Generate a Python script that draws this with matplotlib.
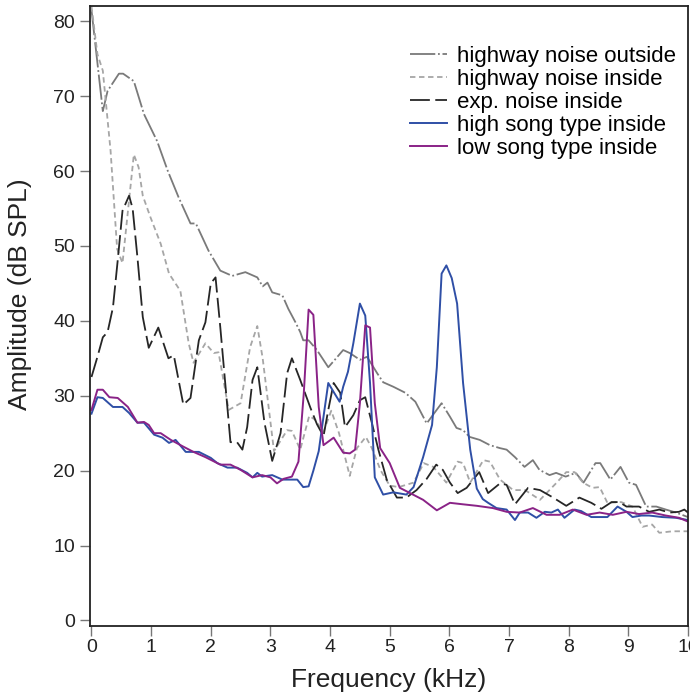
import matplotlib
matplotlib.use('Agg')
import matplotlib.pyplot as plt

# Values (frequency in kHz, level in dB SPL)
out_f = [0.0, 0.19, 0.27, 0.46, 0.53, 0.71, 0.88, 1.1, 1.28, 1.46, 1.66, 1.75, 1.96, 2.16, 2.36,
         2.58, 2.78, 2.87, 2.95, 3.03, 3.2, 3.3, 3.42, 3.5, 3.55, 3.64, 3.78, 3.97, 4.08, 4.22,
         4.33, 4.5, 4.62, 4.79, 4.89, 5.06, 5.26, 5.43, 5.62, 5.87, 6.01, 6.12, 6.23, 6.34, 6.51,
         6.68, 6.85, 6.96, 7.1, 7.26, 7.4, 7.51, 7.68, 7.79, 7.95, 8.12, 8.25, 8.45, 8.53, 8.7,
         8.87, 9.01, 9.13, 9.3, 9.47, 9.63, 9.8, 10.0]
out_db = [81.5, 68.0, 70.7, 73.0, 73.0, 72.0, 67.6, 64.0, 60.0, 56.5, 53.0, 53.0, 49.4, 46.7, 46.0,
          46.5, 45.8, 44.6, 45.1, 43.8, 43.4, 41.6, 39.8, 38.5, 37.4, 37.4, 36.1, 33.8, 34.8, 36.1,
          35.7, 34.8, 35.2, 33.0, 31.8, 31.2, 30.4, 29.2, 26.3, 29.0, 27.2, 25.7, 25.4, 24.5, 24.1,
          23.4, 23.0, 22.8, 21.8, 20.5, 21.4, 20.1, 19.4, 19.7, 19.2, 19.7, 18.4, 21.0, 21.0, 18.8,
          20.5, 18.4, 18.1, 15.2, 15.2, 14.8, 14.4, 13.8]

in_f = [0.0, 0.1, 0.19, 0.32, 0.43, 0.52, 0.71, 0.79, 0.86, 0.99, 1.16, 1.3, 1.49, 1.63, 1.71,
        1.91, 2.05, 2.13, 2.3, 2.5, 2.66, 2.78, 2.87, 3.06, 3.28, 3.36, 3.5, 3.65, 3.75, 3.89,
        4.02, 4.15, 4.33, 4.45, 4.6, 4.7, 4.85, 5.0, 5.15, 5.4, 5.57, 5.73, 5.95, 6.14, 6.23,
        6.35, 6.57, 6.68, 6.85, 7.07, 7.27, 7.52, 7.8, 7.96, 8.1, 8.24, 8.4, 8.52, 8.65, 8.88,
        9.07, 9.24, 9.4, 9.52, 9.74, 10.0]
in_db = [82.0, 75.6, 73.4, 62.7, 49.6, 47.7, 62.2, 60.5, 56.7, 53.8, 50.3, 46.3, 44.0, 37.0, 34.4,
         37.0, 35.7, 35.8, 28.1, 29.0, 36.5, 39.3, 35.0, 22.6, 25.4, 25.3, 22.8, 27.3, 26.8, 25.2,
         28.0, 25.0, 19.3, 23.0, 24.5, 23.0, 20.0, 18.0, 17.8, 18.4, 21.0, 20.5, 18.4, 21.2, 21.0,
         18.4, 21.4, 21.2, 18.8, 17.4, 17.4, 16.1, 18.4, 19.8, 19.8, 18.4, 17.7, 17.8, 15.7, 15.8,
         15.2, 12.5, 12.8, 11.7, 11.9, 11.9]

exp_f = [0.0, 0.1, 0.19, 0.27, 0.36, 0.44, 0.52, 0.63, 0.69, 0.77, 0.86, 0.96, 1.12, 1.29, 1.38,
         1.54, 1.66, 1.8, 1.91, 2.0, 2.08, 2.16, 2.33, 2.44, 2.53, 2.61, 2.7, 2.78, 2.9, 3.03,
         3.17, 3.28, 3.36, 3.5, 3.67, 3.78, 3.89, 3.97, 4.06, 4.17, 4.25, 4.39, 4.5, 4.59, 4.7,
         4.81, 4.95, 5.12, 5.28, 5.45, 5.62, 5.78, 5.89, 6.01, 6.14, 6.29, 6.5, 6.65, 6.85, 6.96,
         7.1, 7.32, 7.52, 7.74, 7.96, 8.18, 8.38, 8.55, 8.72, 8.85, 8.97, 9.18, 9.35, 9.52, 9.69,
         9.85, 9.94, 10.0]
exp_db = [32.5, 35.2, 37.8, 38.5, 41.8, 48.1, 54.7, 56.7, 55.0, 48.5, 40.5, 36.4, 39.1, 35.0, 35.4,
          28.8, 29.7, 37.4, 39.8, 45.0, 45.8, 39.1, 23.8, 23.8, 22.8, 25.8, 32.1, 33.8, 26.4, 21.3,
          25.0, 33.0, 35.0, 32.1, 28.4, 26.2, 24.6, 28.1, 31.7, 30.4, 25.8, 27.4, 29.4, 29.8, 26.4,
          22.8, 18.8, 16.4, 16.4, 17.4, 18.9, 20.8, 20.1, 18.4, 17.0, 17.7, 19.8, 17.0, 18.3, 18.1,
          15.5, 17.7, 17.4, 16.4, 15.3, 16.4, 15.7, 14.9, 15.8, 15.8, 15.2, 15.2, 14.5, 14.8, 14.4,
          14.5, 14.8, 14.4]

high_f = [0.0, 0.1, 0.19, 0.36, 0.52, 0.63, 0.77, 0.88, 1.05, 1.19, 1.3, 1.41, 1.58, 1.69, 1.8,
          2.0, 2.11, 2.28, 2.44, 2.61, 2.7, 2.78, 2.86, 3.03, 3.2, 3.45, 3.55, 3.64, 3.72, 3.81,
          3.89, 3.97, 4.06, 4.16, 4.22, 4.3, 4.39, 4.5, 4.59, 4.67, 4.75, 4.89, 5.06, 5.28, 5.4,
          5.56, 5.71, 5.79, 5.87, 5.95, 6.04, 6.13, 6.23, 6.35, 6.46, 6.56, 6.65, 6.79, 6.96, 7.1,
          7.18, 7.32, 7.46, 7.6, 7.71, 7.82, 7.93, 8.1, 8.21, 8.38, 8.55, 8.65, 8.82, 8.97, 9.07,
          9.22, 9.35, 9.57, 9.8, 10.0]
high_db = [27.6, 29.8, 29.7, 28.5, 28.5, 27.7, 26.4, 26.4, 24.8, 24.4, 23.7, 24.1, 22.5, 22.5, 22.5,
           21.7, 21.0, 20.4, 20.4, 19.7, 19.1, 19.7, 19.2, 19.4, 18.8, 18.8, 17.8, 17.9, 20.0, 22.6,
           27.2, 31.7, 30.5, 29.2, 31.2, 33.2, 37.0, 42.3, 40.7, 31.7, 19.1, 16.8, 17.1, 16.8, 17.8,
           21.8, 26.1, 33.8, 46.3, 47.4, 45.7, 42.3, 31.7, 22.8, 17.6, 16.2, 15.7, 15.0, 14.8, 13.4,
           14.4, 14.4, 13.7, 14.5, 14.4, 14.8, 13.7, 14.8, 14.6, 13.8, 13.8, 13.8, 15.2, 14.5, 13.8,
           14.0, 14.0, 13.8, 13.7, 13.4]

low_f = [0.0, 0.1, 0.19, 0.3, 0.44, 0.61, 0.77, 0.88, 0.96, 1.05, 1.16, 1.33, 1.54, 1.71, 1.91,
         2.16, 2.33, 2.5, 2.7, 2.86, 3.0, 3.11, 3.22, 3.36, 3.47, 3.56, 3.64, 3.72, 3.81, 3.89,
         4.06, 4.22, 4.33, 4.42, 4.5, 4.59, 4.67, 4.75, 4.84, 5.0, 5.17, 5.39, 5.56, 5.79, 6.01,
         6.23, 6.46, 6.73, 6.96, 7.18, 7.4, 7.63, 7.85, 8.07, 8.3, 8.52, 8.74, 8.97, 9.18, 9.4,
         9.63, 9.85, 10.0]
low_db = [28.1, 30.8, 30.8, 29.8, 29.7, 28.5, 26.4, 26.5, 26.1, 25.0, 25.0, 24.1, 23.2, 22.5, 21.8,
          20.8, 20.8, 20.1, 19.1, 19.4, 19.1, 18.3, 18.9, 19.2, 21.2, 30.4, 41.5, 40.8, 28.5, 23.4,
          24.4, 22.4, 22.3, 22.8, 29.0, 39.4, 39.1, 29.0, 23.0, 21.0, 17.7, 16.8, 16.1, 14.7, 15.7,
          15.5, 15.3, 15.0, 14.5, 14.4, 15.0, 14.1, 14.1, 14.8, 14.1, 14.4, 14.1, 14.5, 14.2, 14.4,
          14.0, 13.7, 13.2]

labels = ['highway noise outside', 'highway noise inside', 'exp. noise inside',
          'high song type inside', 'low song type inside']

plt.rcParams['font.family'] = ['Liberation Sans', 'DejaVu Sans']

fig = plt.figure(figsize=(6.9, 6.96), dpi=100)
ax = fig.add_axes([0.130, 0.100, 0.867, 0.891])

ax.plot(out_f, out_db, color='#7a7a7a', lw=1.3, dashes=(14, 1.5, 1, 1.5), label=labels[0])
ax.plot(in_f, in_db, color='#a6a6a6', lw=1.3, dashes=(3, 2), label=labels[1])
ax.plot(exp_f, exp_db, color='#262626', lw=1.3, dashes=(11, 3), label=labels[2])
ax.plot(high_f, high_db, color='#2f4fa6', lw=1.4, label=labels[3])
ax.plot(low_f, low_db, color='#8a2387', lw=1.4, label=labels[4])

ax.set_xlim(-0.03, 10)
ax.set_ylim(-0.8, 82)
ax.set_xticks(range(0, 11))
ax.set_yticks(range(0, 81, 10))

for s in ax.spines.values():
    s.set_linewidth(1.3)
    s.set_color('#222222')
ax.tick_params(direction='out', length=7, width=1.0, color='#777777',
               labelsize=14, labelcolor='#222222')
ax.tick_params(axis='x', pad=2)

ax.set_xlabel('Frequency (kHz)', fontsize=19, color='#222222', labelpad=9)
ax.set_ylabel('Amplitude (dB SPL)', fontsize=19, color='#222222')
ax.yaxis.set_label_coords(-0.097, 0.535)

leg = ax.legend(loc='upper right', bbox_to_anchor=(1.013, 0.968), frameon=False, fontsize=16,
                handlelength=1.65, handletextpad=0.45, labelspacing=0.09)

fig.savefig('out.png', dpi=100)
